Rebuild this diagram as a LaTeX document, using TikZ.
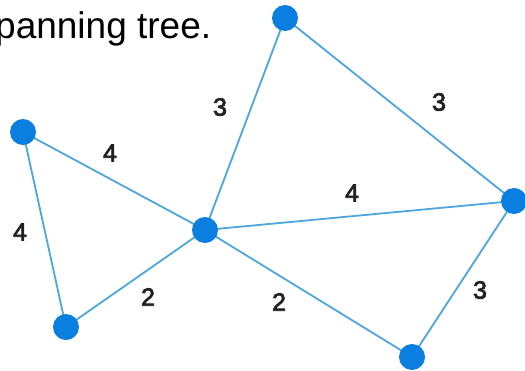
\documentclass[tikz,border=0pt]{standalone}
\usepackage{fontspec}
\setmainfont{Liberation Sans}
\newfontfamily\labfont{Liberation Sans}[FakeBold=3]
\definecolor{nodeblue}{HTML}{0A7FE0}
\definecolor{edgeblue}{HTML}{4DA6DD}
\definecolor{labgray}{HTML}{222222}
\begin{document}
\begin{tikzpicture}[x=1pt,y=-1pt,
  vtx/.style={circle,fill=nodeblue,minimum size=26pt,inner sep=0pt},
  edge/.style={draw=edgeblue,line width=1.8pt},
  wlab/.style={font=\labfont\fontsize{25}{25}\selectfont,text=labgray,inner sep=0pt}]
\useasboundingbox (0,0) rectangle (525,370);
\fill[white] (0,0) rectangle (525,370);
\node[anchor=base west,inner sep=0pt,font=\fontsize{37}{37}\selectfont,text=black] (title) at (-5,38) {panning tree.};
\coordinate (pT) at (285,18);
\coordinate (pL) at (23,132);
\coordinate (pC) at (205,230);
\coordinate (pBL) at (66,327);
\coordinate (pR) at (514,201);
\coordinate (pBR) at (412,357);
\draw[edge] (pL) -- (pC);
\draw[edge] (pL) -- (pBL);
\draw[edge] (pBL) -- (pC);
\draw[edge] (pC) -- (pT);
\draw[edge] (pT) -- (pR);
\draw[edge] (pC) -- (pR);
\draw[edge] (pC) -- (pBR);
\draw[edge] (pBR) -- (pR);
\node[vtx] (T) at (pT) {};
\node[vtx] (L) at (pL) {};
\node[vtx] (C) at (pC) {};
\node[vtx] (BL) at (pBL) {};
\node[vtx] (R) at (pR) {};
\node[vtx] (BR) at (pBR) {};
\node[wlab] (l1) at (20,232) {4};
\node[wlab] (l2) at (110,153) {4};
\node[wlab] (l3) at (148,297) {2};
\node[wlab] (l4) at (220,107) {3};
\node[wlab] (l5) at (439,102) {3};
\node[wlab] (l6) at (352,193) {4};
\node[wlab] (l7) at (279,302) {2};
\node[wlab] (l8) at (480,290) {3};
\end{tikzpicture}
\end{document}
